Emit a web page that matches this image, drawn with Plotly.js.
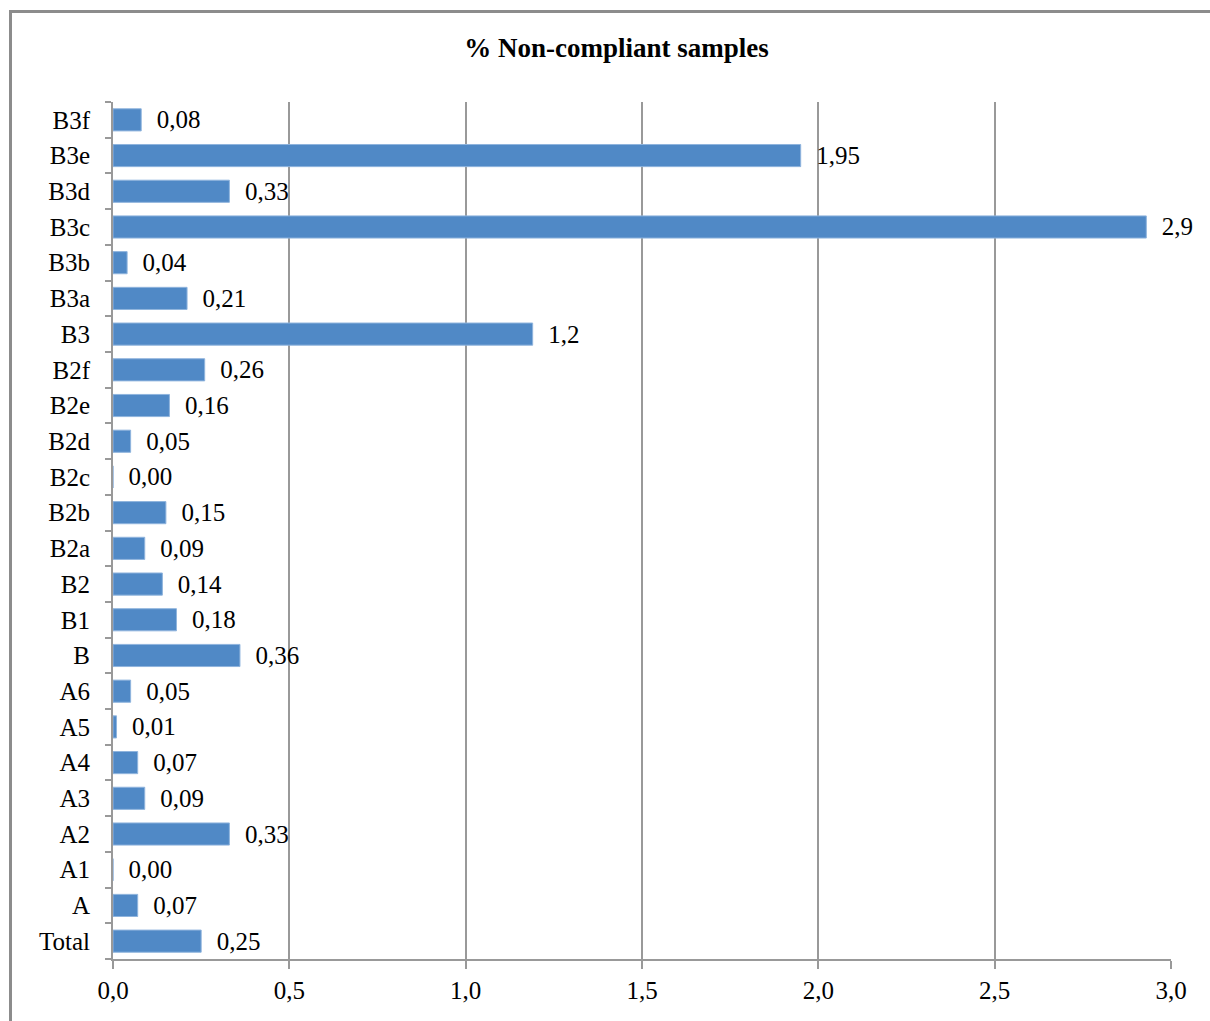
<!DOCTYPE html>
<html>
<head>
<meta charset="utf-8">
<script src="https://cdn.plot.ly/plotly-3.0.1.min.js"></script>
<style>
  html, body { margin: 0; padding: 0; background: #fff; overflow: hidden; }
  #wrap { position: relative; width: 1210px; height: 1021px; }
  #chart { position: absolute; left: 0; top: 0; width: 1210px; height: 1021px; }
  #frame { position: absolute; left: 9px; top: 10px; width: 1240px; height: 1060px;
           border: 3px solid #8c8c8c; pointer-events: none; box-sizing: border-box; }
</style>
</head>
<body>
<div id="wrap">
  <div id="chart"></div>
  <div id="frame"></div>
</div>
<script>
const categories = ["Total","A","A1","A2","A3","A4","A5","A6","B","B1","B2","B2a","B2b","B2c","B2d","B2e","B2f","B3","B3a","B3b","B3c","B3d","B3e","B3f"];
const values = [0.25,0.07,0.00,0.33,0.09,0.07,0.01,0.05,0.36,0.18,0.14,0.09,0.15,0.00,0.05,0.16,0.26,1.19,0.21,0.04,2.93,0.33,1.95,0.08];
const labels = ["0,25","0,07","0,00","0,33","0,09","0,07","0,01","0,05","0,36","0,18","0,14","0,09","0,15","0,00","0,05","0,16","0,26","1,2","0,21","0,04","2,9","0,33","1,95","0,08"];
const xTicks = [0, 0.5, 1.0, 1.5, 2.0, 2.5, 3.0];
const chartTitle = "% Non-compliant samples";

const FONT = '"Liberation Serif", "Times New Roman", serif';

const trace = {
  type: 'bar',
  orientation: 'h',
  x: values,
  y: categories,
  text: labels.map(s => '\u00a0\u00a0' + s),
  textposition: 'outside',
  constraintext: 'none',
  cliponaxis: false,
  textfont: { family: FONT, size: 25, color: '#000' },
  marker: { color: '#5089c6', line: { color: '#8fb4dd', width: 1 } },
  hoverinfo: 'none'
};

const layout = {
  width: 1210,
  height: 1021,
  margin: { l: 113, r: 39, t: 102, b: 62, pad: 0 },
  paper_bgcolor: '#fff',
  plot_bgcolor: '#fff',
  separators: ', ',
  showlegend: false,
  bargap: 0.38,
  font: { family: FONT, size: 25, color: '#000' },
  title: {
    text: '<b>' + chartTitle + '</b>',
    font: { family: FONT, size: 27, color: '#000' },
    x: 0.476, xref: 'paper', xanchor: 'center',
    y: 1 - 48/1021, yref: 'container', yanchor: 'middle'
  },
  xaxis: {
    range: [0, 3],
    tickvals: xTicks,
    tickformat: '.1f',
    showgrid: true,
    gridcolor: '#999999',
    gridwidth: 2,
    zeroline: false,
    showline: true,
    linecolor: '#999999',
    linewidth: 2,
    ticks: 'outside',
    ticklen: 8,
    tickwidth: 2,
    tickcolor: '#999999',
    tickfont: { family: FONT, size: 25, color: '#000' },
    fixedrange: true
  },
  yaxis: {
    type: 'category',
    categoryorder: 'array',
    categoryarray: categories,
    showgrid: false,
    zeroline: false,
    showline: true,
    linecolor: '#999999',
    linewidth: 2,
    ticks: 'outside',
    tickson: 'boundaries',
    ticklen: 6,
    tickwidth: 2,
    tickcolor: '#999999',
    ticklabelstandoff: 16,
    tickfont: { family: FONT, size: 25, color: '#000' },
    fixedrange: true
  }
};

Plotly.newPlot('chart', [trace], layout, { displayModeBar: false, staticPlot: true });
</script>
</body>
</html>
